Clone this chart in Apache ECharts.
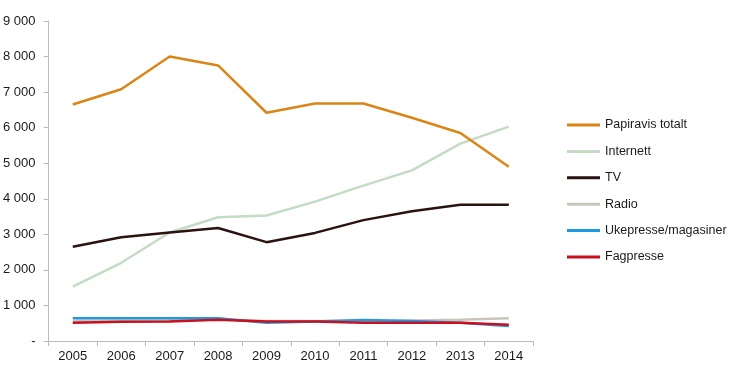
<!DOCTYPE html>
<html><head><meta charset="utf-8">
<script src="https://cdn.jsdelivr.net/npm/echarts@6/dist/echarts.min.js"></script>
<style>html,body{margin:0;padding:0;background:#fff}#c{width:730px;height:380px}</style>
</head><body><div id="c"></div>
<script>
const years = ['2005','2006','2007','2008','2009','2010','2011','2012','2013','2014'];
const papiravis = [6650,7080,8000,7750,6420,6680,6680,6280,5850,4900];
const internett = [1530,2200,3050,3480,3530,3920,4370,4800,5550,6030];
const tv = [2650,2920,3050,3180,2780,3040,3400,3650,3830,3830];
const radio = [560,570,580,610,560,560,560,580,600,640];
const ukepresse = [640,640,640,640,510,550,590,560,510,420];
const fagpresse = [510,540,550,600,550,550,510,510,510,460];
const names = ['Papiravis totalt','Internett','TV','Radio','Ukepresse/magasiner','Fagpresse'];
const colors = ['#DA8617','#C4DBC4','#2A1210','#C9C5BD','#1E9BE0','#C8101E'];
const values = [papiravis, internett, tv, radio, ukepresse, fagpresse];
const drawOrder = [1,0,2,3,4,5];
const chart = echarts.init(document.getElementById('c'));
const font = 'Liberation Sans, Arial, sans-serif';
chart.setOption({
  animation:false,
  grid:{left:48,right:197,top:21,bottom:39},
  legend:{orient:'vertical',left:567,top:118,padding:0,itemWidth:33,itemHeight:3,itemGap:12.4,icon:'rect',
    data:names,textStyle:{fontFamily:font,fontSize:12.5,color:'#1a1a1a',lineHeight:14}},
  xAxis:{type:'category',data:years,boundaryGap:true,
    axisLine:{lineStyle:{color:'#BBBBBB',width:1}},
    axisTick:{show:true,length:5,lineStyle:{color:'#BBBBBB'}},
    axisLabel:{fontFamily:font,fontSize:13,color:'#1a1a1a',margin:9}},
  yAxis:{type:'value',min:0,max:9000,interval:1000,
    axisLine:{show:true,lineStyle:{color:'#BBBBBB',width:1}},
    axisTick:{show:true,length:5,lineStyle:{color:'#BBBBBB'}},
    splitLine:{show:false},
    axisLabel:{fontFamily:font,fontSize:13,color:'#1a1a1a',margin:13,
      formatter:v=> v===0 ? '-' : (v/1000)+' 000'}},
  series: drawOrder.map(i=>({name:names[i],type:'line',data:values[i],symbol:'none',
    lineStyle:{width:2.5,color:colors[i]},itemStyle:{color:colors[i]}}))
});
</script></body></html>
